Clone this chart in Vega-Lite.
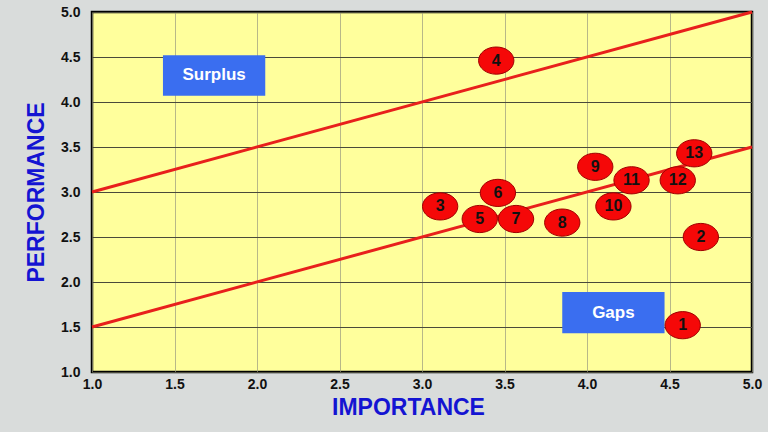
{
  "$schema": "https://vega.github.io/schema/vega-lite/v6.json",
  "autosize": {"type": "none"},
  "padding": {"left": 92, "top": 12, "right": 16, "bottom": 60},
  "width": 660,
  "height": 360,
  "background": "#d9dcdb",
  "config": {
    "view": {"fill": "#ffff9c", "stroke": "#000000", "strokeWidth": 2.5},
    "font": "Liberation Sans"
  },
  "datasets": {
    "points": [
      {"id": "1", "importance": 4.58, "performance": 1.52},
      {"id": "2", "importance": 4.69, "performance": 2.5},
      {"id": "3", "importance": 3.11, "performance": 2.84},
      {"id": "4", "importance": 3.45, "performance": 4.46},
      {"id": "5", "importance": 3.35, "performance": 2.7},
      {"id": "6", "importance": 3.46, "performance": 2.99},
      {"id": "7", "importance": 3.57, "performance": 2.7},
      {"id": "8", "importance": 3.85, "performance": 2.66},
      {"id": "9", "importance": 4.05, "performance": 3.28},
      {"id": "10", "importance": 4.16, "performance": 2.84},
      {"id": "11", "importance": 4.27, "performance": 3.13},
      {"id": "12", "importance": 4.55, "performance": 3.13},
      {"id": "13", "importance": 4.65, "performance": 3.43}
    ],
    "lines": [
      {"x1": 1, "y1": 3, "x2": 5, "y2": 5},
      {"x1": 1, "y1": 1.5, "x2": 5, "y2": 3.5}
    ],
    "boxes": [
      {"label": "Surplus", "x1": 1.43, "x2": 2.05, "y1": 4.07, "y2": 4.52},
      {"label": "Gaps", "x1": 3.85, "x2": 4.47, "y1": 1.43, "y2": 1.89}
    ]
  },
  "layer": [
    {
      "data": {"name": "lines"},
      "mark": {"type": "rule", "color": "#e8201c", "strokeWidth": 3},
      "encoding": {
        "x": {
          "field": "x1", "type": "quantitative",
          "scale": {"domain": [1, 5], "nice": false, "zero": false},
          "axis": {
            "title": "IMPORTANCE", "values": [1, 1.5, 2, 2.5, 3, 3.5, 4, 4.5, 5],
            "format": ".1f", "ticks": false, "domain": false,
            "labelFlush": false, "labelOverlap": false,
            "grid": true, "gridColor": "#9a9a80", "gridWidth": 0.7,
            "labelFont": "Liberation Sans", "labelFontWeight": "bold", "labelFontSize": 14,
            "labelColor": "#111111", "labelPadding": 5,
            "titleFont": "Liberation Sans", "titleFontWeight": "bold", "titleFontSize": 23,
            "titleColor": "#1414d2", "titleX": 316, "titlePadding": 5
          }
        },
        "y": {
          "field": "y1", "type": "quantitative",
          "scale": {"domain": [1, 5], "nice": false, "zero": false},
          "axis": {
            "title": "PERFORMANCE", "values": [1, 1.5, 2, 2.5, 3, 3.5, 4, 4.5, 5],
            "format": ".1f", "ticks": false, "domain": false,
            "labelFlush": false, "labelOverlap": false,
            "grid": true, "gridColor": "#4a4a3a", "gridWidth": 1,
            "labelFont": "Liberation Sans", "labelFontWeight": "bold", "labelFontSize": 14,
            "labelColor": "#111111", "labelPadding": 12,
            "titleFont": "Liberation Sans", "titleFontWeight": "bold", "titleFontSize": 23,
            "titleColor": "#1414d2", "titlePadding": 12
          }
        },
        "x2": {"field": "x2"},
        "y2": {"field": "y2"}
      }
    },
    {
      "data": {"name": "boxes"},
      "mark": {"type": "rect", "color": "#3a6ef0"},
      "encoding": {
        "x": {"field": "x1", "type": "quantitative"},
        "x2": {"field": "x2"},
        "y": {"field": "y1", "type": "quantitative"},
        "y2": {"field": "y2"}
      }
    },
    {
      "data": {"name": "boxes"},
      "transform": [
        {"calculate": "(datum.x1 + datum.x2) / 2", "as": "cx"},
        {"calculate": "(datum.y1 + datum.y2) / 2", "as": "cy"}
      ],
      "mark": {"type": "text", "color": "white", "fontWeight": "bold", "fontSize": 17, "font": "Liberation Sans"},
      "encoding": {
        "x": {"field": "cx", "type": "quantitative"},
        "y": {"field": "cy", "type": "quantitative"},
        "text": {"field": "label"}
      }
    },
    {
      "data": {"name": "points"},
      "mark": {
        "type": "point", "filled": true, "color": "#f50808",
        "stroke": "#a00000", "strokeWidth": 1, "opacity": 1,
        "shape": "M-1,0 A1,0.77 0 1,0 1,0 A1,0.77 0 1,0 -1,0 Z",
        "size": 1250
      },
      "encoding": {
        "x": {"field": "importance", "type": "quantitative"},
        "y": {"field": "performance", "type": "quantitative"}
      }
    },
    {
      "data": {"name": "points"},
      "mark": {"type": "text", "color": "#111111", "fontWeight": "bold", "fontSize": 16, "font": "Liberation Sans"},
      "encoding": {
        "x": {"field": "importance", "type": "quantitative"},
        "y": {"field": "performance", "type": "quantitative"},
        "text": {"field": "id"}
      }
    }
  ]
}
